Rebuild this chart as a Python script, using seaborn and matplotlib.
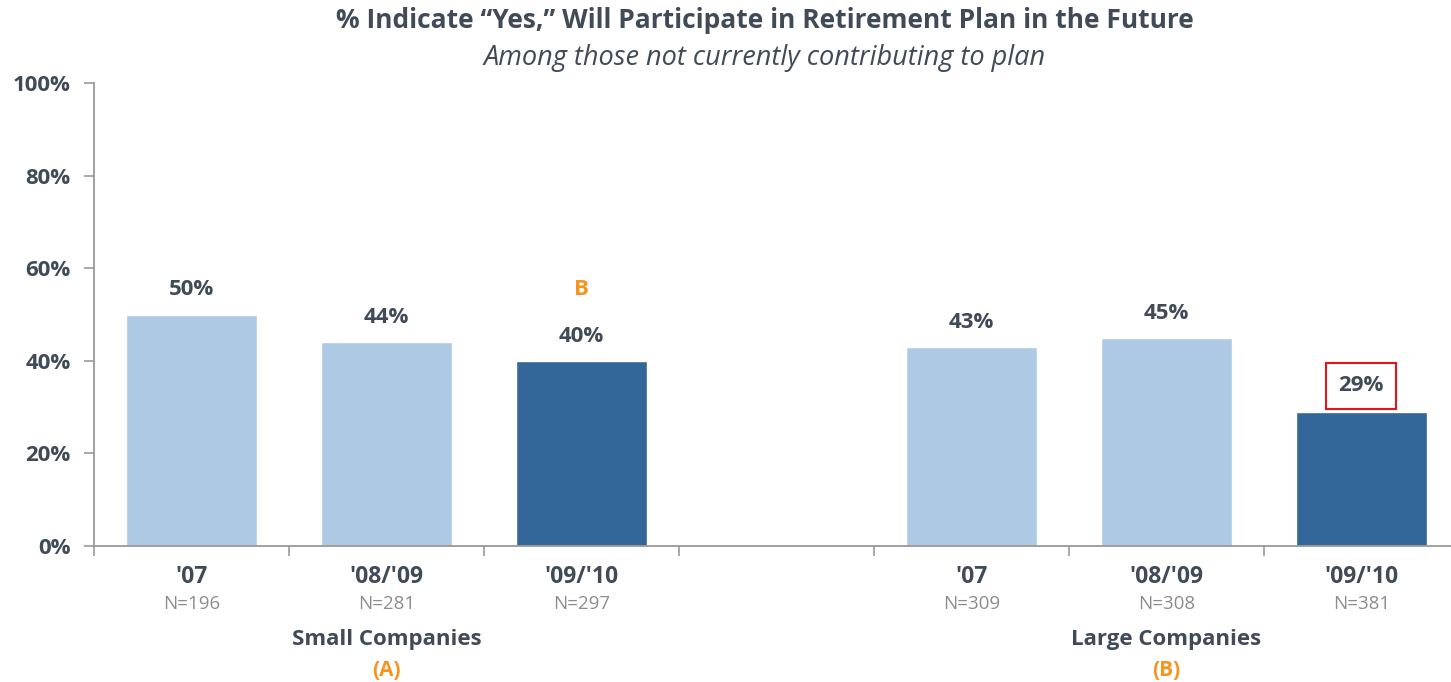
import pandas as pd
import matplotlib.pyplot as plt
import seaborn as sns

# data
periods = ["'07", "'08/'09", "'09/'10"]
small_pct = [50, 44, 40]
large_pct = [43, 45, 29]
small_n = [196, 281, 297]
large_n = [309, 308, 381]
groups = ["Small Companies", "Large Companies"]
group_tags = ["(A)", "(B)"]

LIGHT = "#aec9e4"
DARK = "#336699"
TXT = "#404b57"
GREY = "#8c8c8c"
ORANGE = "#f7941d"

# slots: 3 small, one empty gap, 3 large
slots = ["S0", "S1", "S2", "gap", "L0", "L1", "L2"]
rows = []
for i, p in enumerate(periods):
    rows.append(("S%d" % i, p, small_pct[i], small_n[i]))
for i, p in enumerate(periods):
    rows.append(("L%d" % i, p, large_pct[i], large_n[i]))
df = pd.DataFrame(rows, columns=["slot", "period", "pct", "n"])
colors = {s: (DARK if s.endswith("2") else LIGHT) for s in df["slot"]}

sns.set_style("white")
plt.rcParams["font.family"] = ["Open Sans", "DejaVu Sans"]

fig = plt.figure(figsize=(14.51, 6.82), dpi=100)
ax = fig.add_axes([94 / 1451, 1 - 546 / 682, 1 - 94 / 1451, (546 - 83) / 682])

sns.barplot(data=df, x="slot", y="pct", order=slots, hue="slot", palette=colors,
            width=0.67, legend=False, ax=ax, saturation=1)

ax.set_ylim(0, 100)
ax.set_xlim(-0.5, 6.46)
ax.set_yticks(range(0, 101, 20))
ax.set_yticklabels(["%d%%" % v for v in range(0, 101, 20)],
                   fontsize=16, fontweight="bold", color=TXT)
ax.set_xticks([-0.5, 0.5, 1.5, 2.5, 3.5, 4.5, 5.5])
ax.set_xticklabels([])
ax.tick_params(axis="both", direction="out", length=7, width=1.2, color="#999999",
               bottom=True, left=True)
ax.tick_params(axis="y", pad=10)
ax.set_xlabel("")
ax.set_ylabel("")
for s in ["top", "right"]:
    ax.spines[s].set_visible(False)
for s in ["left", "bottom"]:
    ax.spines[s].set_color("#999999")
    ax.spines[s].set_linewidth(1.3)

xt = ax.get_xaxis_transform()
pos = {s: i for i, s in enumerate(slots)}
for _, r in df.iterrows():
    x = pos[r["slot"]]
    if r["slot"] != "L2":
        ax.text(x, r["pct"] + 5.3, "%d%%" % r["pct"], ha="center", va="center",
                fontsize=16, fontweight="bold", color=TXT)
    ax.text(x, -0.068, r["period"], transform=xt, ha="center", va="center",
            fontsize=16.5, fontweight="bold", color=TXT)
    ax.text(x, -0.126, "N=%d" % r["n"], transform=xt, ha="center", va="center",
            fontsize=13.5, color=GREY)

for k, (g, tag) in enumerate(zip(groups, group_tags)):
    gx = 1 if k == 0 else 5
    ax.text(gx, -0.203, g, transform=xt, ha="center", va="center",
            fontsize=16, fontweight="bold", color=TXT)
    ax.text(gx, -0.268, tag, transform=xt, ha="center", va="center",
            fontsize=15, fontweight="bold", color=ORANGE)

# significance marker over small '09/'10 bar
ax.text(pos["S2"], small_pct[2] + 15.3, "B", ha="center", va="center",
        fontsize=16, fontweight="bold", color=ORANGE)

# large '09/'10 label, boxed in red
ax.text(pos["L2"], large_pct[2] + 5.6, "%d%%" % large_pct[2], ha="center", va="center",
        fontsize=16, fontweight="bold", color=TXT,
        bbox=dict(boxstyle="square,pad=0.55", fc="none", ec="#e8121b", lw=1.5))

fig.text(0.527, 0.970, "% Indicate \u201cYes,\u201d Will Participate in Retirement Plan in the Future",
         ha="center", va="center", fontsize=19, fontweight="bold", color=TXT)
fig.text(0.527, 0.915, "Among those not currently contributing to plan",
         ha="center", va="center", fontsize=19.5, style="italic", color=TXT)

fig.savefig("out.png", dpi=100)
